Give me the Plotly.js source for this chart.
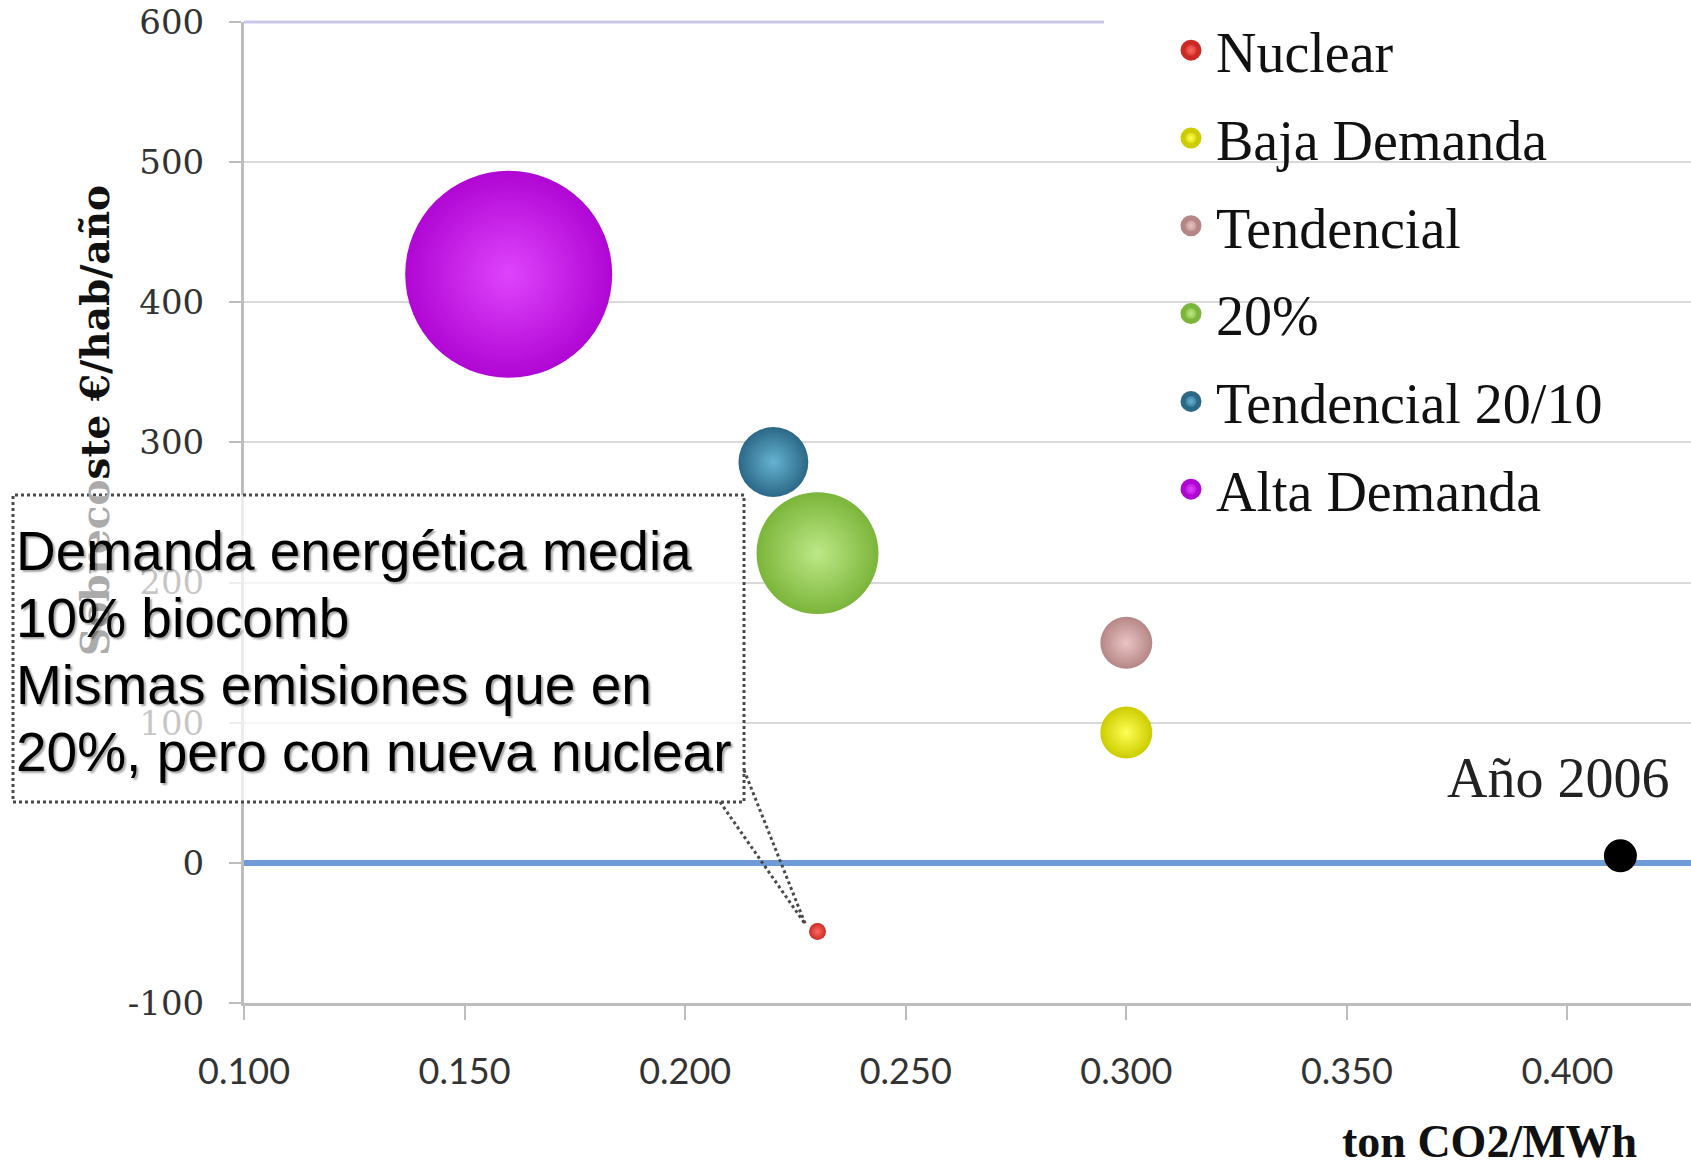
<!DOCTYPE html>
<html>
<head>
<meta charset="utf-8">
<script src="https://cdn.plot.ly/plotly-3.0.1.min.js"></script>
<style>
  html, body { margin: 0; padding: 0; background: #ffffff; }
  #chart { width: 1691px; height: 1167px; }
</style>
</head>
<body>
<div id="chart"></div>
<script>
// ---- Data ----
const scenarios   = ['Nuclear', 'Baja Demanda', 'Tendencial', '20%', 'Tendencial 20/10', 'Alta Demanda'];
const emissions   = [0.230, 0.300, 0.300, 0.230, 0.220, 0.160];   // ton CO2/MWh
const extraCost   = [-49, 93, 157, 221, 286, 420];                // Sobrecoste €/hab/año
const bubbleValue = [0.67, 6.3, 6.3, 34.7, 11.4, 100];            // relative bubble size (area)

const baseYearLabel = 'Año 2006';
const baseYearX = [0.412];
const baseYearY = [5];

const xTickVals = [0.100, 0.150, 0.200, 0.250, 0.300, 0.350, 0.400];
const xTickText = ['0.100', '0.150', '0.200', '0.250', '0.300', '0.350', '0.400'];
const yTickVals = [-100, 0, 100, 200, 300, 400, 500, 600];
const yTickText = ['-100', '0', '100', '200', '300', '400', '500', '600'];

const calloutLines = ['Demanda energética media', '10% biocomb', 'Mismas emisiones que en', '20%, pero con nueva nuclear'];

// ---- Styles ----
const centerColors = ['#ff6a60', '#ffff55', '#ebc4c4', '#bde887', '#66b3d2', '#df44fc'];
const edgeColors   = ['#cc2a25', '#cccc00', '#b68686', '#7bb53a', '#2a6886', '#b006d4'];
const xRange = [0.1, 0.428];
const yRange = [-100, 600];
const maxBubbleDiameter = 207;
const sizeRef = 2 * Math.max(...bubbleValue) / (maxBubbleDiameter * maxBubbleDiameter);

const traces = [];
scenarios.forEach((name, i) => {
  traces.push({
    type: 'scatter',
    mode: 'markers',
    name: name,
    legendgroup: 'g' + i,
    showlegend: false,
    x: [emissions[i]],
    y: [extraCost[i]],
    marker: {
      size: [bubbleValue[i]],
      sizemode: 'area',
      sizeref: sizeRef,
      opacity: 1,
      color: edgeColors[i],
      gradient: { type: 'radial', color: centerColors[i] },
      line: { width: 0 }
    },
    cliponaxis: false
  });
});
// legend entries (carry no visible point of their own)
scenarios.forEach((name, i) => {
  traces.push({
    type: 'scatter',
    mode: 'markers',
    name: name,
    legendgroup: 'g' + i,
    showlegend: true,
    x: [null],
    y: [null],
    marker: {
      size: 16,
      opacity: 1,
      color: edgeColors[i],
      gradient: { type: 'radial', color: centerColors[i] },
      line: { width: 5, color: edgeColors[i] }
    }
  });
});

traces.push({
  type: 'scatter',
  mode: 'markers',
  name: baseYearLabel,
  x: baseYearX,
  y: baseYearY,
  marker: { size: 33, color: '#000000' },
  showlegend: false,
  cliponaxis: false
});

// paper-coordinate helpers derived from the axes ranges
const plotW = 1691 - 244, plotH = 1167 - 22 - 164;
const px = v => (v - xRange[0]) / (xRange[1] - xRange[0]);
const py = v => (v - yRange[0]) / (yRange[1] - yRange[0]);
const tipX = px(emissions[0]) - 12 / plotW;
const tipY = py(extraCost[0]) + 7 / plotH;

const annotations = [
  {
    xref: 'paper', yref: 'paper',
    x: (95 - 244) / plotW, y: (1003 - 421) / plotH,
    text: '<span style="color:#ababab">Sobreco</span>ste €/hab/año',
    textangle: -90,
    showarrow: false,
    xanchor: 'center', yanchor: 'middle',
    font: { family: 'DejaVu Serif, serif', size: 39, color: '#111111', weight: 'bold' }
  },
  {
    xref: 'paper', yref: 'paper',
    x: (1489 - 244) / plotW, y: (1003 - 1141) / plotH,
    text: 'ton CO2/MWh',
    showarrow: false,
    xanchor: 'center', yanchor: 'middle',
    font: { family: 'Liberation Serif, serif', size: 46, color: '#111111', weight: 'bold' }
  },
  {
    xref: 'x', yref: 'y',
    x: baseYearX[0], y: baseYearY[0],
    text: baseYearLabel,
    showarrow: false,
    xanchor: 'center', yanchor: 'middle',
    xshift: -62, yshift: 78,
    font: { family: 'Liberation Serif, serif', size: 56, color: '#222222' }
  }
];
calloutLines.forEach((line, i) => {
  annotations.push({
    xref: 'paper', yref: 'paper',
    x: (14 - 244) / plotW, y: (1003 - (551 + 67 * i)) / plotH,
    text: line,
    showarrow: false,
    align: 'left',
    xanchor: 'left', yanchor: 'middle',
    font: { family: 'Liberation Sans, Arial, sans-serif', size: 55, color: '#000000',
            shadow: '2px 2px 2px rgba(0,0,0,0.35)' }
  });
});

const layout = {
  width: 1691,
  height: 1167,
  paper_bgcolor: '#ffffff',
  plot_bgcolor: '#ffffff',
  margin: { l: 244, r: 0, t: 22, b: 164 },
  showlegend: true,
  legend: {
    x: (1166 - 244) / plotW,
    y: 1.015,
    xanchor: 'left',
    yanchor: 'top',
    bgcolor: 'rgba(255,255,255,0)',
    borderwidth: 0,
    itemwidth: 40,
    tracegroupgap: 12,
    traceorder: 'grouped',
    font: { family: 'Liberation Serif, serif', size: 56, color: '#111111' }
  },
  xaxis: {
    range: xRange,
    tickmode: 'array',
    tickvals: xTickVals,
    ticktext: xTickText,
    showgrid: false,
    zeroline: false,
    showline: true,
    linecolor: '#bdbdbd',
    linewidth: 3,
    ticks: 'outside',
    ticklen: 14,
    tickwidth: 2,
    tickcolor: '#bdbdbd',
    ticklabelstandoff: 21,
    tickfont: { family: 'Lato, sans-serif', size: 36, color: '#333333' }
  },
  yaxis: {
    range: yRange,
    tickmode: 'array',
    tickvals: yTickVals,
    ticktext: yTickText,
    showgrid: true,
    gridcolor: '#d9d9d9',
    gridwidth: 2,
    zeroline: true,
    zerolinecolor: '#6f9bd8',
    zerolinewidth: 6,
    showline: true,
    linecolor: '#bdbdbd',
    linewidth: 3,
    ticks: 'outside',
    ticklen: 12,
    tickwidth: 2,
    tickcolor: '#bdbdbd',
    ticklabelstandoff: 18,
    tickfont: { family: 'DejaVu Serif, serif', size: 34, color: '#333333' }
  },
  shapes: [
    { type: 'line', xref: 'paper', yref: 'paper', x0: 0, x1: (1104 - 244) / plotW, y0: 1, y1: 1,
      line: { color: '#c9c9ec', width: 3 }, layer: 'between' },
    { type: 'rect', xref: 'paper', yref: 'paper', x0: (1104 - 244) / plotW, x1: 1.01, y0: (1003 - 540) / plotH, y1: 1.03,
      fillcolor: '#ffffff', line: { width: 0 }, layer: 'between' },
    { type: 'rect', xref: 'paper', yref: 'paper',
      x0: (13 - 244) / plotW, x1: (744 - 244) / plotW, y0: (1003 - 802) / plotH, y1: (1003 - 495) / plotH,
      fillcolor: 'rgba(255,255,255,0.72)', line: { color: '#4a4a4a', width: 3, dash: 'dot' }, layer: 'above' },
    { type: 'line', xref: 'paper', yref: 'paper',
      x0: (720 - 244) / plotW, y0: (1003 - 802) / plotH, x1: tipX, y1: tipY,
      line: { color: '#4a4a4a', width: 3, dash: 'dot' }, layer: 'above' },
    { type: 'line', xref: 'paper', yref: 'paper',
      x0: (744 - 244) / plotW, y0: (1003 - 770) / plotH, x1: tipX, y1: tipY,
      line: { color: '#4a4a4a', width: 3, dash: 'dot' }, layer: 'above' }
  ],
  annotations: annotations
};

Plotly.newPlot('chart', traces, layout, { displayModeBar: false, staticPlot: true });
</script>
</body>
</html>
